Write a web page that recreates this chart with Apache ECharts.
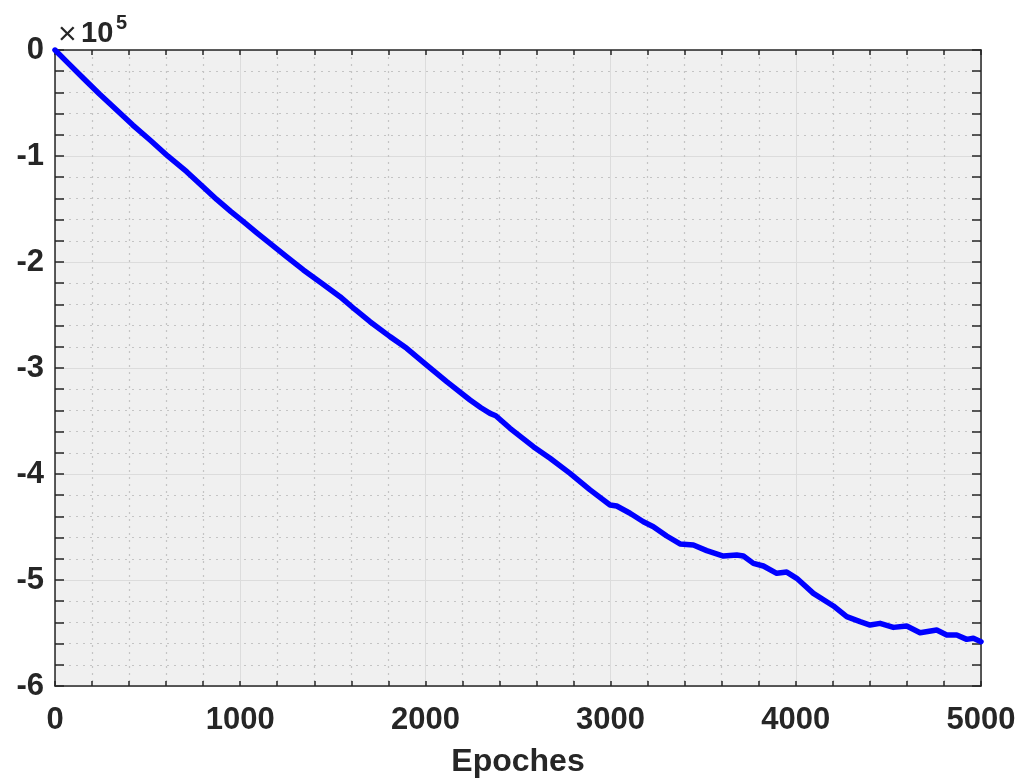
<!DOCTYPE html>
<html>
<head>
<meta charset="utf-8">
<script src="https://cdn.jsdelivr.net/npm/echarts@6/dist/echarts.min.js"></script>
<style>
html,body{margin:0;padding:0;background:#fff;}
#chart{width:1030px;height:778px;}
</style>
</head>
<body>
<div id="chart"></div>
<script>
// Data
const epochs = [0, 60, 153, 240, 333, 420, 513, 610, 711, 790, 873, 950, 1017, 1090, 1161, 1250, 1341, 1440, 1539, 1620, 1701, 1809, 1899, 2007, 2115, 2241, 2300, 2349, 2380, 2457, 2583, 2673, 2781, 2889, 2997, 3033, 3105, 3177, 3231, 3303, 3375, 3447, 3519, 3609, 3681, 3717, 3771, 3825, 3897, 3951, 4005, 4095, 4203, 4275, 4347, 4401, 4455, 4527, 4599, 4671, 4761, 4815, 4869, 4923, 4959, 5000];
const values = [0, -10500, -26700, -41500, -56600, -70800, -84900, -100200, -114800, -127500, -141000, -152500, -162000, -172500, -182400, -195000, -207500, -220000, -232700, -244800, -256300, -270400, -281400, -297200, -312900, -330200, -337500, -342800, -345000, -356900, -374200, -385200, -399400, -415000, -429200, -430200, -437000, -445000, -449700, -458500, -466000, -467000, -472300, -477400, -476400, -477400, -484300, -486800, -493700, -492500, -498400, -512600, -524500, -534600, -539300, -542500, -540900, -544700, -543400, -549700, -547200, -551900, -551900, -556000, -555000, -558200];
const xTicks = [0, 1000, 2000, 3000, 4000, 5000];
const yTickLabels = ['0', '-1', '-2', '-3', '-4', '-5', '-6'];
const xLabel = 'Epoches';
const expTimes = '×';
const expBase = '10';
const expPower = '5';

const seriesData = epochs.map((e, i) => [e, values[i]]);
const axisColor = '#262626';
const font = 'Liberation Sans, Arial, Helvetica, sans-serif';

const chart = echarts.init(document.getElementById('chart'), null, {renderer: 'canvas'});
const gridBox = {left: 55, top: 50, width: 926, height: 636};

const baseX = {
  type: 'value', min: 0, max: 5000, interval: 1000,
  axisLine: {show: true, onZero: false, lineStyle: {color: axisColor, width: 1.5}},
  axisTick: {show: true, inside: true, length: 5, lineStyle: {color: axisColor, width: 1.5}},
  minorTick: {show: true, splitNumber: 5, length: 5, lineStyle: {color: axisColor, width: 1.5}}
};
const baseY = {
  type: 'value', min: -600000, max: 0, interval: 100000,
  axisLine: {show: true, onZero: false, lineStyle: {color: axisColor, width: 1.5}},
  axisTick: {show: true, inside: true, length: 9, lineStyle: {color: axisColor, width: 1.5}},
  minorTick: {show: true, splitNumber: 5, length: 9, lineStyle: {color: axisColor, width: 1.5}}
};

chart.setOption({
  animation: false,
  backgroundColor: '#ffffff',
  grid: Object.assign({show: true, backgroundColor: '#F0F0F0', borderWidth: 0, containLabel: false, outerBoundsMode: 'none'}, gridBox),
  xAxis: [
    Object.assign({}, baseX, {
      position: 'bottom',
      name: xLabel, nameLocation: 'middle', nameGap: 60,
      nameTextStyle: {fontFamily: font, fontWeight: 'bold', fontSize: 32, color: axisColor},
      axisLabel: {show: true, margin: 19, fontFamily: font, fontWeight: 'bold', fontSize: 31, color: axisColor,
        formatter: v => xTicks.includes(v) ? String(v) : ''},
      splitLine: {show: true, lineStyle: {color: '#DCDCDC', width: 1}},
      minorSplitLine: {show: true, lineStyle: {color: '#C4C4C4', width: 1.2, type: [2, 5]}}
    }),
    Object.assign({}, baseX, {
      position: 'top',
      axisLabel: {show: false},
      splitLine: {show: false}, minorSplitLine: {show: false}
    })
  ],
  yAxis: [
    Object.assign({}, baseY, {
      position: 'left',
      axisLabel: {show: true, margin: 11, padding: [12, 0, 0, 0],
        fontFamily: font, fontWeight: 'bold', fontSize: 31, color: axisColor,
        formatter: v => yTickLabels[Math.round(-v / 100000)]},
      splitLine: {show: true, lineStyle: {color: '#DCDCDC', width: 1}},
      minorSplitLine: {show: true, lineStyle: {color: '#C4C4C4', width: 1.2, type: [2, 5]}}
    }),
    Object.assign({}, baseY, {
      position: 'right',
      axisLabel: {show: false},
      splitLine: {show: false}, minorSplitLine: {show: false}
    })
  ],
  series: [{
    type: 'line',
    xAxisIndex: 0, yAxisIndex: 0,
    data: seriesData,
    showSymbol: false,
    symbol: 'none',
    lineStyle: {color: '#0000FF', width: 5.5, join: 'round', cap: 'round'},
    z: 5
  }],
  graphic: [
    {type: 'text', left: 58, top: 19, z: 10,
      style: {text: expTimes, font: '32px ' + font, fill: axisColor}},
    {type: 'text', left: 81, top: 19, z: 10,
      style: {text: expBase, font: 'bold 29px ' + font, fill: axisColor}},
    {type: 'text', left: 116, top: 13, z: 10,
      style: {text: expPower, font: 'bold 20px ' + font, fill: axisColor}}
  ]
});
</script>
</body>
</html>
